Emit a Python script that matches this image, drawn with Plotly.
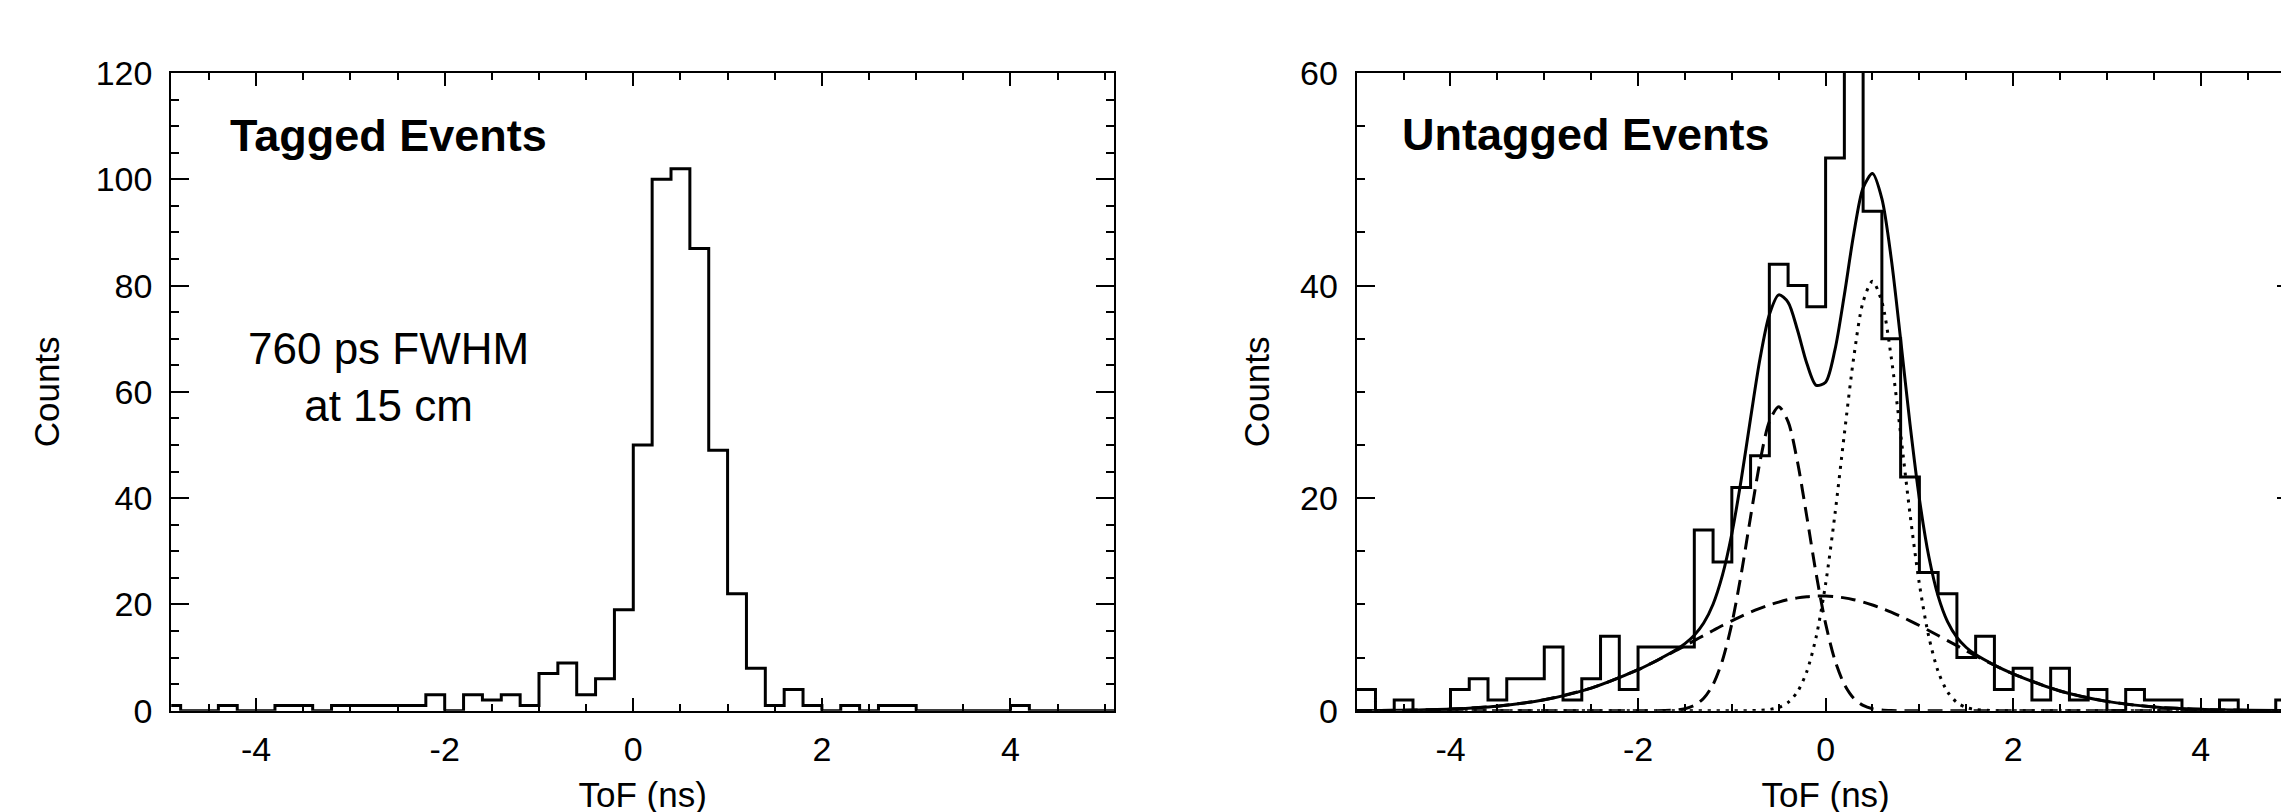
import plotly.graph_objects as go

# ---------------- data ----------------
bin_start = -5.0
bin_width = 0.2

tagged_counts = [1, 0, 0, 1, 0, 0, 1, 1, 0, 1, 1, 1, 1, 1, 3, 0, 3, 2, 3, 1, 7, 9, 3, 6, 19,
                 50, 100, 102, 87, 49, 22, 8, 1, 4, 1, 0, 1, 0, 1, 1, 0, 0, 0, 0, 0, 1, 0, 0, 0, 0, 0]

untagged_counts = [2, 0, 1, 0, 0, 2, 3, 1, 3, 3, 6, 1, 3, 7, 2, 6, 6, 6, 17, 14, 21, 24, 42, 40, 38,
                   52, 70, 47, 35, 22, 13, 11, 5, 7, 2, 4, 1, 4, 1, 2, 0, 2, 1, 1, 0, 0, 1, 0, 0, 1]

fit_x = [-5.0, -4.5, -4.0, -3.5, -3.0, -2.5, -2.0, -1.8,
         -1.6, -1.5, -1.4, -1.3, -1.2, -1.1, -1.0, -0.9, -0.8, -0.7, -0.6, -0.5, -0.4, -0.3, -0.2, -0.1,
         0.0, 0.1, 0.2, 0.3, 0.4, 0.5, 0.6, 0.7, 0.8, 0.9, 1.0, 1.1, 1.2, 1.3, 1.4, 1.5, 1.6,
         1.8, 2.0, 2.5, 3.0, 3.5, 4.0, 4.5, 5.0]

fit_total = [0.01, 0.05, 0.16, 0.43, 1.03, 2.13, 3.86, 4.73,
             5.71, 6.31, 7.10, 8.25, 10.02, 12.75, 16.65, 21.73, 27.52, 33.09, 37.26, 39.13, 38.43, 35.82, 32.67, 30.62,
             30.91, 33.97, 39.14, 44.86, 49.20, 50.54, 48.18, 42.54, 34.93, 26.97, 19.95, 14.53, 10.78, 8.38, 6.90, 5.95, 5.28,
             4.29, 3.47, 1.86, 0.88, 0.36, 0.13, 0.04, 0.01]

fit_early = [0, 0, 0, 0, 0, 0, 0, 0.01,
             0.07, 0.19, 0.50, 1.17, 2.47, 4.73, 8.19, 12.85, 18.24, 23.42, 27.20, 28.60, 27.20, 23.42, 18.24, 12.85,
             8.19, 4.73, 2.47, 1.17, 0.50, 0.19, 0.07, 0.02, 0, 0, 0, 0, 0, 0, 0, 0, 0,
             0, 0, 0, 0, 0, 0, 0, 0]

fit_late = [0, 0, 0, 0, 0, 0, 0, 0,
            0, 0, 0, 0, 0, 0, 0, 0, 0.01, 0.04, 0.11, 0.31, 0.78, 1.78, 3.70, 6.98,
            11.93, 18.51, 26.05, 33.24, 38.48, 40.40, 38.48, 33.24, 26.05, 18.51, 11.93, 6.98, 3.70, 1.78, 0.78, 0.31, 0.11,
            0.01, 0, 0, 0, 0, 0, 0, 0]

fit_broad = [0.01, 0.05, 0.16, 0.43, 1.03, 2.13, 3.86, 4.72,
             5.64, 6.12, 6.60, 7.08, 7.55, 8.02, 8.46, 8.88, 9.28, 9.63, 9.95, 10.22, 10.45, 10.62, 10.73, 10.79,
             10.79, 10.73, 10.62, 10.45, 10.22, 9.95, 9.63, 9.28, 8.88, 8.46, 8.02, 7.55, 7.08, 6.60, 6.12, 5.64, 5.17,
             4.28, 3.47, 1.86, 0.88, 0.36, 0.13, 0.04, 0.01]

x_tickvals = [-4, -2, 0, 2, 4]
x_ticktext = ["-4", "-2", "0", "2", "4"]
left_y_ticks = [0, 20, 40, 60, 80, 100, 120]
right_y_ticks = [0, 20, 40, 60]


def step_xy(counts):
    edges = [round(bin_start + bin_width * i, 3) for i in range(len(counts) + 1)]
    return edges, list(counts) + [counts[-1]]


FONT = "Liberation Sans, Arial, Helvetica, sans-serif"
BLACK = "#000000"

fig = go.Figure()

tx, ty = step_xy(tagged_counts)
fig.add_trace(go.Scatter(x=tx, y=ty, mode="lines", line=dict(shape="hv", color=BLACK, width=3),
                         xaxis="x", yaxis="y", name="Tagged"))

ux, uy = step_xy(untagged_counts)
fig.add_trace(go.Scatter(x=ux, y=uy, mode="lines", line=dict(shape="hv", color=BLACK, width=3),
                         xaxis="x2", yaxis="y2", name="Untagged"))
fig.add_trace(go.Scatter(x=fit_x, y=fit_broad, mode="lines",
                         line=dict(shape="spline", smoothing=0.8, color=BLACK, width=3, dash="15px,8px"),
                         xaxis="x2", yaxis="y2", name="broad"))
fig.add_trace(go.Scatter(x=fit_x, y=fit_early, mode="lines",
                         line=dict(shape="spline", smoothing=0.8, color=BLACK, width=3, dash="15px,8px"),
                         xaxis="x2", yaxis="y2", name="early"))
fig.add_trace(go.Scatter(x=fit_x, y=fit_late, mode="lines",
                         line=dict(shape="spline", smoothing=0.8, color=BLACK, width=3, dash="3px,6px"),
                         xaxis="x2", yaxis="y2", name="late"))
fig.add_trace(go.Scatter(x=fit_x, y=fit_total, mode="lines",
                         line=dict(shape="spline", smoothing=0.8, color=BLACK, width=3),
                         xaxis="x2", yaxis="y2", name="total"))

W, H = 2289, 812
y_dom = [1 - 717.3 / H, 1 - 48.3 / H]

axis_common = dict(showline=True, linewidth=2, linecolor=BLACK, mirror="ticks", ticks="inside",
                   tickwidth=2, tickcolor=BLACK, showgrid=False, zeroline=False,
                   tickfont=dict(family=FONT, size=34, color=BLACK))

xcommon = dict(axis_common, tickmode="array", tickvals=x_tickvals, ticktext=x_ticktext, ticklen=13,
               ticklabelstandoff=7,
               minor=dict(ticks="inside", tickmode="linear", tick0=0, dtick=0.5, ticklen=7,
                          tickwidth=2, tickcolor=BLACK),
               title=dict(text="ToF (ns)", font=dict(family=FONT, size=35, color=BLACK), standoff=16))

ycommon = dict(axis_common, tickmode="array", ticklen=18, ticklabelstandoff=10,
               minor=dict(ticks="inside", tickmode="linear", tick0=0, dtick=5, ticklen=8,
                          tickwidth=2, tickcolor=BLACK))

fig.update_layout(
    width=W, height=H,
    margin=dict(l=0, r=0, t=0, b=0),
    paper_bgcolor="white", plot_bgcolor="white",
    showlegend=False,
    xaxis=dict(xcommon, domain=[163.3 / W, 1106.7 / W], range=[-4.9, 5.1], anchor="y"),
    yaxis=dict(ycommon, domain=y_dom, range=[0, 120], anchor="x", tickvals=left_y_ticks,
               title=dict(text="Counts", font=dict(family=FONT, size=35, color=BLACK), standoff=25)),
    xaxis2=dict(xcommon, domain=[1349.3 / W, 2287.5 / W], range=[-5, 5], anchor="y2"),
    yaxis2=dict(ycommon, domain=y_dom, range=[0, 60], anchor="x2", tickvals=right_y_ticks,
                title=dict(text="Counts", font=dict(family=FONT, size=35, color=BLACK), standoff=20)),
    annotations=[
        dict(text="<b>Tagged Events</b>", x=-2.6, y=108.3, xref="x", yref="y", showarrow=False,
             xanchor="center", yanchor="middle", font=dict(family=FONT, size=45, color=BLACK)),
        dict(text="760 ps FWHM<br>at 15 cm", x=-2.6, y=62.8, xref="x", yref="y", showarrow=False,
             xanchor="center", yanchor="middle", align="center",
             font=dict(family=FONT, size=44, color=BLACK)),
        dict(text="<b>Untagged Events</b>", x=-2.55, y=54.2, xref="x2", yref="y2", showarrow=False,
             xanchor="center", yanchor="middle", font=dict(family=FONT, size=45, color=BLACK)),
    ],
)

fig.write_html("out.html")
